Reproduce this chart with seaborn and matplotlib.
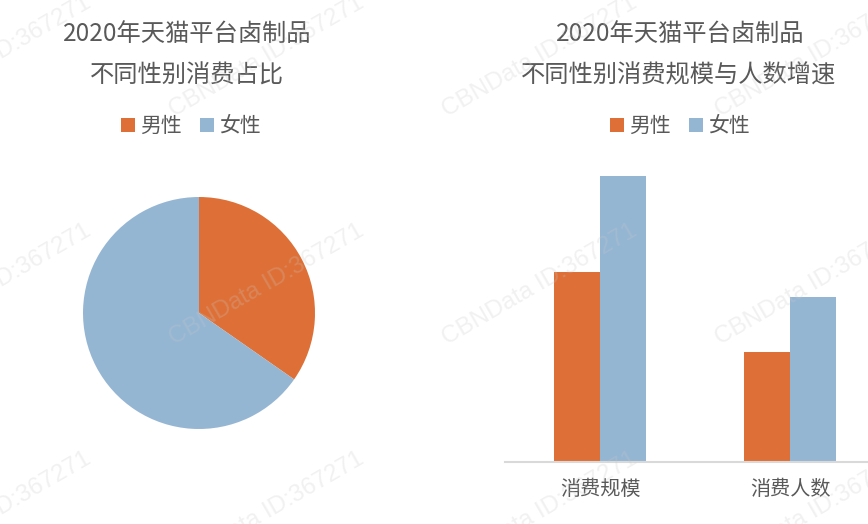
import pandas as pd
import seaborn as sns
import matplotlib.pyplot as plt
from matplotlib.patches import Patch

genders = ['男性', '女性']
pie_share = [34.7, 65.3]

bar_metrics = ['消费规模', '消费人数']
male_values = [190, 110]
female_values = [286, 165]

colors = ['#DE7037', '#95B6D3']
text_color = '#595959'


def add_legend(fig, x, y):
    handles = [Patch(facecolor=c, edgecolor='none') for c in colors]
    fig.legend(handles, genders, loc='center', bbox_to_anchor=(x, y),
               ncol=2, frameon=False, fontsize=15, handlelength=0.65,
               handleheight=0.65, handletextpad=0.25, columnspacing=0.9,
               labelcolor=text_color)


def main():
    sns.set_style('white')
    plt.rcParams['font.family'] = ['Noto Sans CJK SC', 'DejaVu Sans']

    W, H = 868, 524
    fig = plt.figure(figsize=(W / 100, H / 100), dpi=100)

    # watermarks
    for cy in [57, 285, 513]:
        for cx in [-6, 267, 540, 813]:
            fig.text(cx / W, 1 - cy / H, 'CBNData ID:367271', fontsize=17.5,
                     color='#c8c8c8', alpha=0.25, rotation=30,
                     ha='center', va='center', zorder=10,
                     family=['Liberation Sans'])

    # pie
    ax_pie = fig.add_axes([83 / W, 1 - 429 / H, 232 / W, 232 / H])
    ax_pie.pie(pie_share, colors=colors, startangle=90, counterclock=False,
               wedgeprops={'linewidth': 0})
    ax_pie.set_xlim(-1, 1)
    ax_pie.set_ylim(-1, 1)
    ax_pie.set_aspect('equal')

    fig.text(187 / W, 1 - 34 / H, '2020年天猫平台卤制品', fontsize=17.5,
             color=text_color, ha='center', va='center')
    fig.text(187 / W, 1 - 76 / H, '不同性别消费占比', fontsize=17.5,
             color=text_color, ha='center', va='center')
    add_legend(fig, 191 / W, 1 - 126 / H)

    # bars
    df = pd.DataFrame({
        'metric': bar_metrics * 2,
        'gender': [genders[0]] * 2 + [genders[1]] * 2,
        'value': male_values + female_values,
    })
    ax_bar = fig.add_axes([505 / W, 1 - 462 / H, 380 / W, 320 / H])
    sns.barplot(data=df, x='metric', y='value', hue='gender',
                palette=colors, saturation=1, width=0.48, gap=0, linewidth=0,
                legend=False, ax=ax_bar)
    ax_bar.set_ylim(0, 320)
    ax_bar.set_xlim(-0.5, 1.5)
    ax_bar.set_xlabel('')
    ax_bar.set_ylabel('')
    ax_bar.set_yticks([])
    for side in ['top', 'right', 'left']:
        ax_bar.spines[side].set_visible(False)
    ax_bar.spines['bottom'].set_color('#D9D9D9')
    ax_bar.spines['bottom'].set_linewidth(1.5)
    ax_bar.tick_params(axis='x', length=0, labelsize=14.5,
                       labelcolor=text_color, pad=12)

    fig.text(680 / W, 1 - 34 / H, '2020年天猫平台卤制品', fontsize=17.5,
             color=text_color, ha='center', va='center')
    fig.text(679 / W, 1 - 76 / H, '不同性别消费规模与人数增速', fontsize=17.5,
             color=text_color, ha='center', va='center')
    add_legend(fig, 680 / W, 1 - 126 / H)

    fig.savefig('out.png', dpi=100)
    plt.close(fig)


if __name__ == '__main__':
    main()
